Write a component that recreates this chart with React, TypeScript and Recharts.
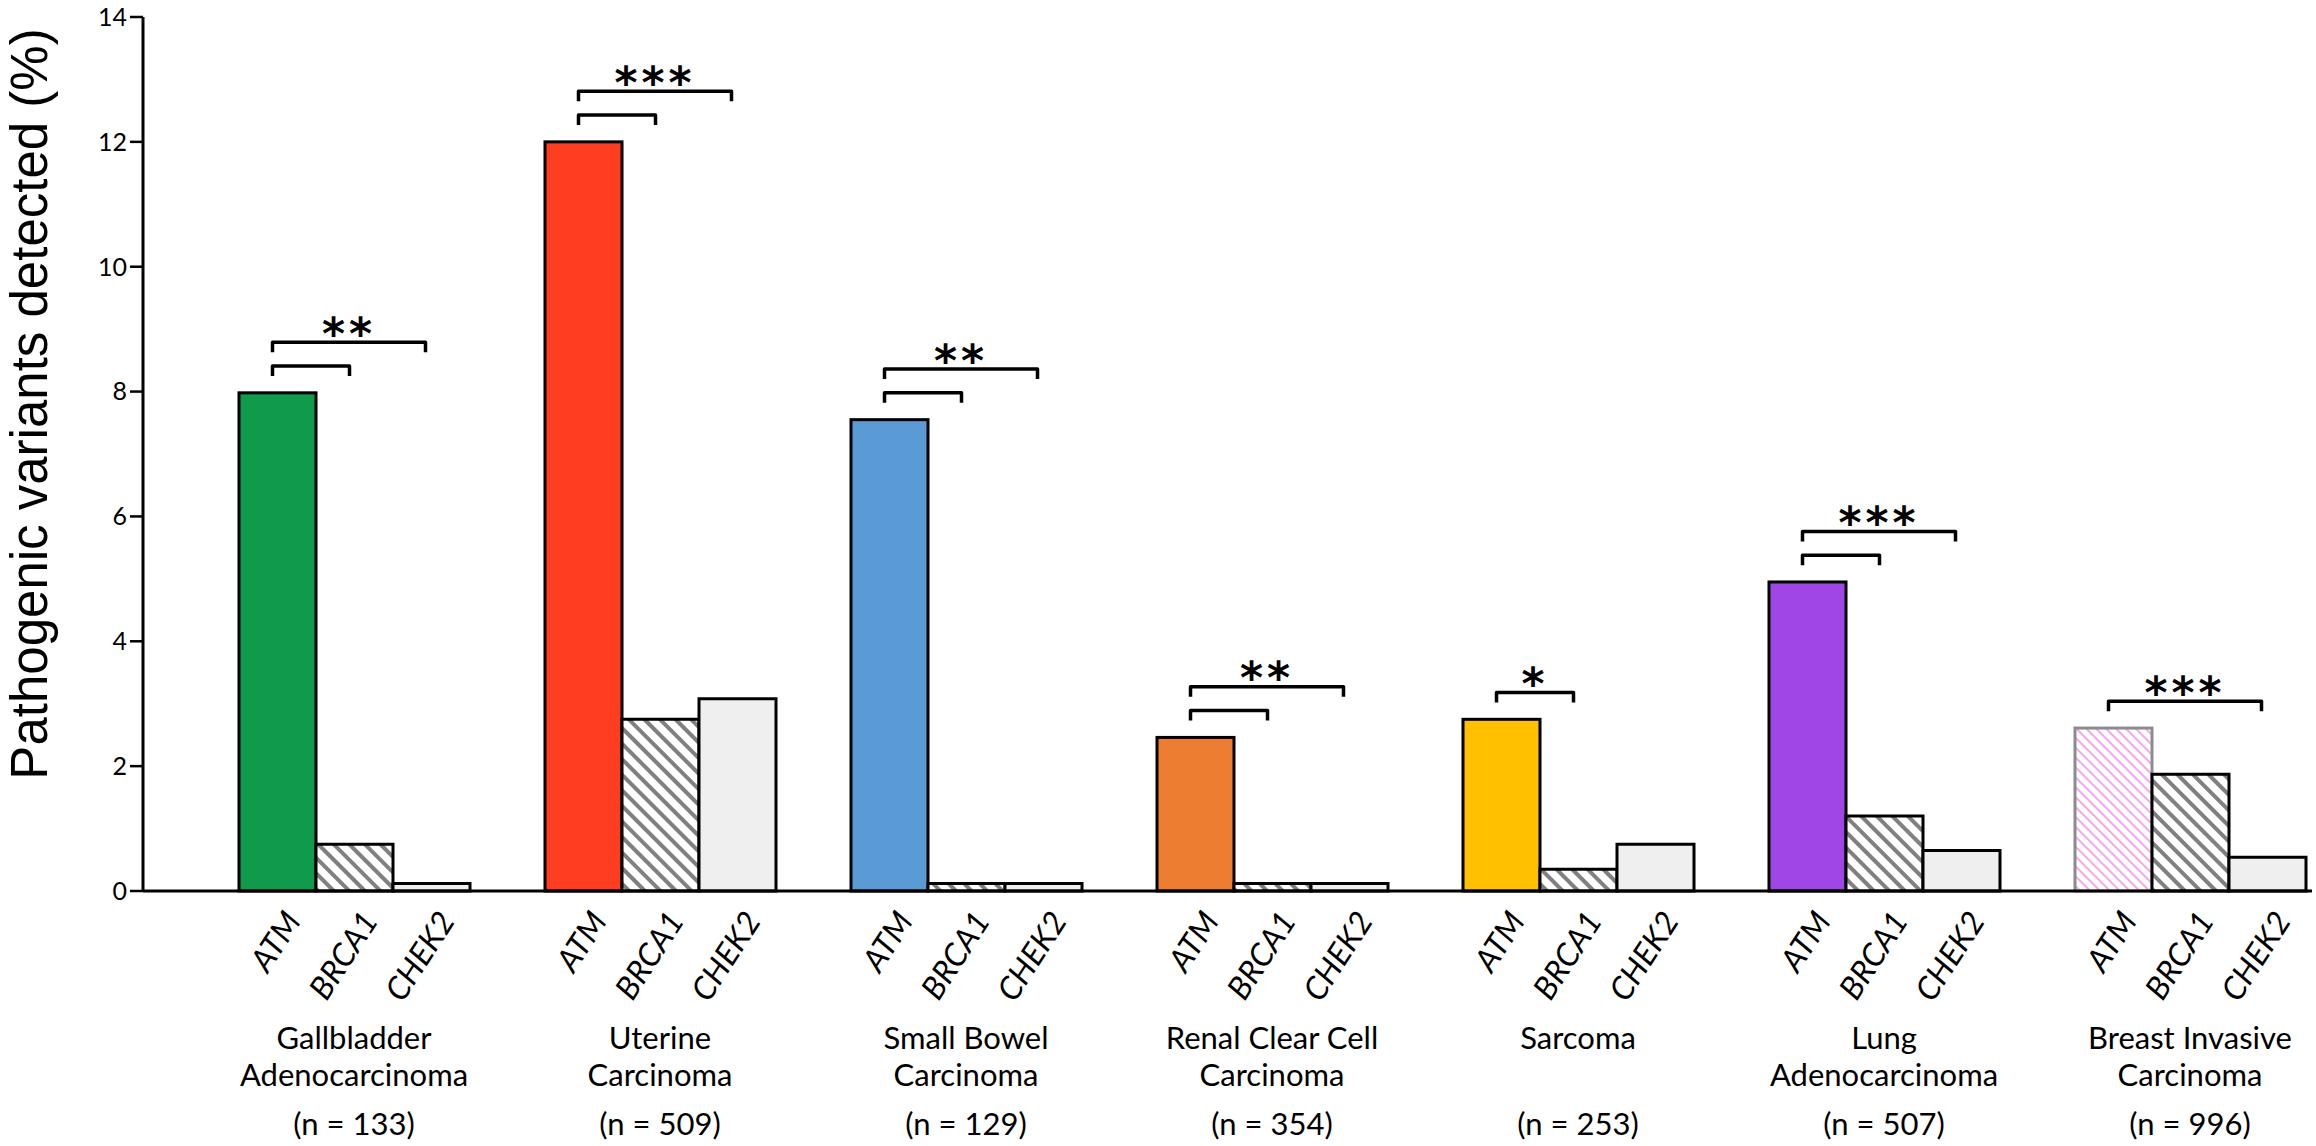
import React from 'react'
import { BarChart, Bar, XAxis, YAxis, Cell } from 'recharts'

const cancers = [
  'Gallbladder Adenocarcinoma',
  'Uterine Carcinoma',
  'Small Bowel Carcinoma',
  'Renal Clear Cell Carcinoma',
  'Sarcoma',
  'Lung Adenocarcinoma',
  'Breast Invasive Carcinoma',
]
const labelLines = [
  ['Gallbladder', 'Adenocarcinoma'],
  ['Uterine', 'Carcinoma'],
  ['Small Bowel', 'Carcinoma'],
  ['Renal Clear Cell', 'Carcinoma'],
  ['Sarcoma'],
  ['Lung', 'Adenocarcinoma'],
  ['Breast Invasive', 'Carcinoma'],
]
const sampleSizes = [133, 509, 129, 354, 253, 507, 996]
const genes = ['ATM', 'BRCA1', 'CHEK2']

// % of patients with a pathogenic variant
const atmValues = [7.98, 12.0, 7.55, 2.46, 2.75, 4.95, 2.61]
const brca1Values = [0.75, 2.75, 0.12, 0.12, 0.35, 1.2, 1.87]
const chek2Values = [0.12, 3.08, 0.12, 0.12, 0.75, 0.65, 0.54]

const atmColors = ['#109a4c', '#ff3d20', '#5b9bd5', '#ed7d31', '#ffc000', '#a046e6', 'url(#pinkHatch)']
const atmStrokes = ['#000', '#000', '#000', '#000', '#000', '#000', '#8c8c8c']

// significance brackets: ATM vs BRCA1, ATM vs CHEK2
const vsBrca1 = [true, true, true, true, true, true, false]
const vsChek2 = [true, true, true, true, false, true, true]
const stars = ['**', '***', '**', '**', '*', '***', '***']

const yTicks = [0, 2, 4, 6, 8, 10, 12, 14]

const BAR_SIZE = 77
const FONT = 'Lato, "Open Sans", sans-serif'

const data = cancers.map((name, i) => ({
  name,
  atm: atmValues[i],
  brca1: brca1Values[i],
  chek2: chek2Values[i],
}))

function AtmBar(props: any) {
  const { x, y, width, height, index, fill, stroke, payload } = props
  const pxPerUnit = height / payload.atm
  const start = x + width / 2 - 5
  const ends: number[] = []
  if (vsBrca1[index]) ends.push(x + width * 1.5 - 5)
  if (vsChek2[index]) ends.push(x + width * 2.5 - 6)
  const lift = [0.43, 0.81]
  const topY = y - lift[ends.length - 1] * pxPerUnit
  const starY = topY - 0.28 * pxPerUnit
  return (
    <g>
      <rect x={x} y={y} width={width} height={height} fill={fill} stroke={stroke} strokeWidth={3} />
      {ends.map((end, k) => {
        const by = y - lift[k] * pxPerUnit
        return (
          <path
            key={k}
            d={`M${start},${by + 10} L${start},${by} L${end},${by} L${end},${by + 10}`}
            fill="none"
            stroke="#000"
            strokeWidth={3.5}
            strokeLinejoin="round"
          />
        )
      })}
      <text
        x={(start + ends[ends.length - 1]) / 2}
        y={starY + 24}
        textAnchor="middle"
        fontFamily="DejaVu Sans"
        fontWeight="bold"
        fontSize={44}
        letterSpacing={4}
        fill="#000"
      >
        {stars[index]}
      </text>
    </g>
  )
}

function CategoryTick(props: any) {
  const { x, y, payload } = props
  const i = payload.index
  return (
    <g>
      {genes.map((g, k) => {
        const gx = x + (k - 1) * BAR_SIZE + 25
        const gy = y + 30
        return (
          <text
            key={g}
            x={gx}
            y={gy}
            transform={`rotate(-57 ${gx} ${gy})`}
            textAnchor="end"
            fontStyle="italic"
            fontSize={32}
            fontFamily={FONT}
            fill="#000"
          >
            {g}
          </text>
        )
      })}
      {labelLines[i].map((line, k) => (
        <text key={k} x={x} y={y + 158 + 37 * k} textAnchor="middle" fontSize={31} fontFamily={FONT} fill="#000">
          {line}
        </text>
      ))}
      <text x={x} y={y + 244} textAnchor="middle" fontSize={31} fontFamily={FONT} fill="#000">
        {`(n = ${sampleSizes[i]})`}
      </text>
    </g>
  )
}

function YTitle(props: any) {
  const vb = props.viewBox
  const tx = vb.x + 47
  const ty = vb.y + vb.height / 2 - 50
  return (
    <text
      x={tx}
      y={ty}
      transform={`rotate(-90 ${tx} ${ty})`}
      textAnchor="middle"
      fontSize={51}
      fontFamily='"Liberation Sans", Arial, sans-serif'
      fill="#000"
    >
      Pathogenic variants detected (%)
    </text>
  )
}

export default function App() {
  return (
    <div style={{ position: 'absolute', left: 0, top: 0, background: '#fff' }}>
      <BarChart
        width={2316}
        height={1146}
        data={data}
        margin={{ top: 17, right: 4, left: 0, bottom: 0 }}
        barSize={BAR_SIZE}
        barGap={0}
      >
        <defs>
          <pattern id="grayHatch" patternUnits="userSpaceOnUse" width="11" height="11" patternTransform="rotate(-45)">
            <rect width="11" height="11" fill="#fff" />
            <rect x="0" y="0" width="4" height="11" fill="#808080" />
          </pattern>
          <pattern id="pinkHatch" patternUnits="userSpaceOnUse" width="7" height="7" patternTransform="rotate(-45)">
            <rect width="7" height="7" fill="#fff" />
            <rect x="0" y="0" width="2" height="7" fill="#f6a6ee" />
          </pattern>
        </defs>
        <XAxis
          dataKey="name"
          interval={0}
          height={255}
          padding={{ left: 58, right: -31 }}
          axisLine={{ stroke: '#000', strokeWidth: 3 }}
          tickLine={false}
          tickSize={0}
          tickMargin={0}
          tick={<CategoryTick />}
        />
        <YAxis
          width={143}
          domain={[0, 14]}
          ticks={yTicks}
          interval={0}
          axisLine={{ stroke: '#000', strokeWidth: 3 }}
          tickLine={{ stroke: '#000', strokeWidth: 2.5 }}
          tickSize={13}
          tickMargin={3}
          tick={{ fill: '#000', fontSize: 25, fontFamily: FONT }}
          label={<YTitle />}
        />
        <Bar dataKey="atm" isAnimationActive={false} shape={<AtmBar />}>
          {data.map((_, i) => (
            <Cell key={i} fill={atmColors[i]} stroke={atmStrokes[i]} />
          ))}
        </Bar>
        <Bar dataKey="brca1" fill="url(#grayHatch)" stroke="#000" strokeWidth={3} isAnimationActive={false} />
        <Bar dataKey="chek2" fill="#efefef" stroke="#000" strokeWidth={3} isAnimationActive={false} />
      </BarChart>
    </div>
  )
}
